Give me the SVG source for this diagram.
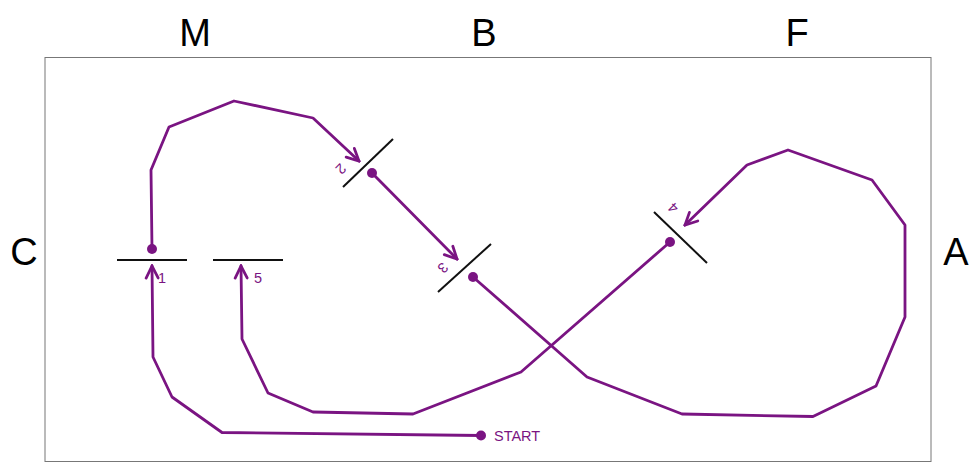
<svg xmlns="http://www.w3.org/2000/svg" width="974" height="463" viewBox="0 0 974 463">
<style>
.side{font-family:"Liberation Sans",Arial,sans-serif;font-size:38px;fill:#000;text-anchor:middle}
.num{font-family:"Liberation Sans",Arial,sans-serif;font-size:14.5px;fill:#7a1482}
.bar{stroke:#111;stroke-width:2;fill:none}
.path{stroke:#7a1482;stroke-width:2.8;fill:none;stroke-linejoin:round;stroke-linecap:round}
.dot{fill:#7a1482}
</style>
<defs>
<marker id="arr" markerUnits="userSpaceOnUse" viewBox="-14 -8 16 16" refX="0" refY="0" markerWidth="16" markerHeight="16" orient="auto">
<path d="M-12,-6 L0,0 L-12,6" fill="none" stroke="#7a1482" stroke-width="2.8" stroke-linejoin="miter" stroke-linecap="round"/>
</marker>
</defs>
<rect x="45" y="57.5" width="886" height="404" fill="#fff" stroke="#777" stroke-width="1"/>
<g id="labels">
<text class="side" x="195" y="46">M</text>
<text class="side" x="484" y="46">B</text>
<text class="side" x="797" y="46">F</text>
<text class="side" x="24" y="265">C</text>
<text class="side" x="956" y="265">A</text>
</g>
<g id="gate1"><line class="bar" x1="117" y1="260" x2="187" y2="260"/><text class="num" x="158" y="283">1</text></g>
<g id="gate5"><line class="bar" x1="213" y1="260" x2="283" y2="260"/><text class="num" x="254" y="283">5</text></g>
<g id="gate2"><line class="bar" x1="343" y1="187" x2="393" y2="139"/><text class="num" text-anchor="middle" transform="translate(341,169) rotate(135)" y="5">2</text></g>
<g id="gate3"><line class="bar" x1="438" y1="292" x2="491" y2="244"/><text class="num" text-anchor="middle" transform="translate(443,268) rotate(135)" y="5">3</text></g>
<g id="gate4"><line class="bar" x1="654" y1="212" x2="707" y2="263"/><text class="num" text-anchor="middle" transform="translate(673,208) rotate(-135)" y="5">4</text></g>
<g id="start"><circle class="dot" cx="481" cy="435.5" r="5"/><text class="num" x="494" y="441">START</text></g>
<g id="connectors">
<polyline class="path" points="481,435.5 222,432.5 172,397 153,357 152,266" marker-end="url(#arr)"/>
<circle class="dot" cx="152" cy="249" r="5"/>
<polyline class="path" points="152,249 151,170 169,127 234,101 313,118 359,161" marker-end="url(#arr)"/>
<circle class="dot" cx="372" cy="173" r="5"/>
<polyline class="path" points="372,173 457,259" marker-end="url(#arr)"/>
<circle class="dot" cx="473" cy="277" r="5"/>
<polyline class="path" points="473,277 587,377 682,414 813,416.5 876,386 905,317 905,225 872,180 788,150 747,165 685,225" marker-end="url(#arr)"/>
<circle class="dot" cx="670" cy="242" r="5"/>
<polyline class="path" points="670,242 521,372 413,414 313,412 268,393 242,339 241,266" marker-end="url(#arr)"/>
</g>
</svg>
